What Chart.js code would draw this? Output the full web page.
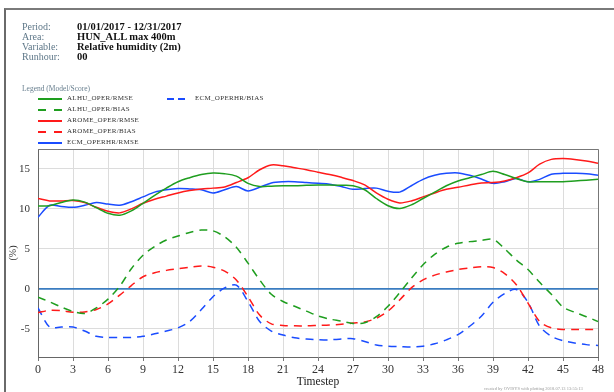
<!DOCTYPE html>
<html>
<head>
<meta charset="utf-8">
<script src="https://cdn.jsdelivr.net/npm/chart.js@4.4.0/dist/chart.umd.min.js"></script>
<style>
  html, body { margin: 0; padding: 0; background: #fff; overflow: hidden; }
  #wrap { position: relative; width: 614px; height: 392px; overflow: hidden; font-family: "Liberation Serif", "DejaVu Serif", serif; }
  #frame { position: absolute; left: 4px; top: 8px; width: 800px; height: 600px; border-top: 2px solid #7a7a7a; border-left: 2px solid #6a6a6a; }
  canvas { position: absolute; left: 0; top: 0; }
  .lab { position: absolute; left: 22px; font-size: 10px; color: #5e7788; }
  .val { position: absolute; left: 77px; font-size: 10.5px; font-weight: bold; color: #111; }
  #legtitle { position: absolute; left: 22px; top: 84px; font-size: 7.5px; color: #6a8090; }
  .li { position: absolute; font-size: 7px; color: #333; letter-spacing: 0.3px; }
  .sw { position: absolute; height: 2px; }
  #foot { position: absolute; left: 484px; top: 386px; font-size: 4.5px; color: #999; white-space: nowrap; }
</style>
</head>
<body>
<div id="wrap">
  <div id="frame"></div>
  <canvas id="c" width="614" height="392"></canvas>
  <div id="hdr"></div>
  <div id="legtitle">Legend (Model/Score)</div>
  <div id="leg"></div>
  <div id="foot">created by OVISYS with plotting 2018.07.13 13:55:13</div>
</div>
<script>
// ---- data ----
const timesteps = Array.from({length: 49}, (_, i) => i);
const xTicks = [0,3,6,9,12,15,18,21,24,27,30,33,36,39,42,45,48];
const yTicks = [-5, 0, 5, 10, 15];

const alhuRmse = [10.35,10.4,10.8,11.1,10.85,10.15,9.45,9.2,9.75,10.7,11.7,12.6,13.4,13.9,14.3,14.5,14.4,14.1,13.2,12.8,12.85,12.9,12.9,12.95,13.0,13.0,12.95,12.9,12.4,11.3,10.4,10.05,10.5,11.3,12.1,12.9,13.5,13.9,14.3,14.7,14.3,13.8,13.4,13.4,13.4,13.4,13.5,13.6,13.7];
const alhuBias = [-1.05,-1.65,-2.3,-2.85,-3.1,-2.4,-1.3,0.3,2.5,4.2,5.3,6.1,6.6,7.05,7.35,7.25,6.5,5.2,3.2,1.1,-0.7,-1.6,-2.2,-2.8,-3.4,-3.8,-4.05,-4.35,-4.25,-3.5,-2.2,-0.5,1.3,3.0,4.3,5.2,5.7,5.9,6.05,6.2,5.0,3.6,2.4,0.8,-0.7,-2.3,-2.95,-3.5,-4.1];
const aromeRmse = [11.3,11.0,11.0,11.05,10.8,10.2,9.7,9.5,10.0,10.7,11.2,11.6,12.0,12.3,12.5,12.6,12.75,13.3,13.9,14.9,15.5,15.4,15.15,14.9,14.6,14.3,13.95,13.55,13.0,12.0,11.2,10.75,11.0,11.5,12.0,12.45,12.7,13.0,13.25,13.3,13.5,13.9,14.5,15.6,16.2,16.3,16.2,16.0,15.7];
const aromeBias = [-3.0,-2.7,-2.75,-2.95,-2.9,-2.6,-1.9,-0.8,0.4,1.5,2.0,2.3,2.5,2.7,2.85,2.7,2.2,1.1,-1.0,-3.3,-4.4,-4.6,-4.65,-4.65,-4.6,-4.55,-4.45,-4.3,-4.15,-3.7,-2.8,-1.4,0.1,1.1,1.7,2.1,2.4,2.6,2.75,2.65,1.9,0.5,-1.8,-4.1,-4.9,-5.1,-5.1,-5.1,-5.1];
const ecmRmse = [8.95,10.45,10.3,10.2,10.45,10.8,10.6,10.45,10.9,11.5,12.1,12.4,12.55,12.5,12.4,12.0,12.4,12.8,12.25,12.7,13.25,13.4,13.4,13.3,13.2,13.1,12.8,12.45,12.55,12.6,12.2,12.1,12.9,13.7,14.2,14.45,14.5,14.2,13.75,13.2,13.4,13.8,13.4,13.7,14.35,14.45,14.45,14.4,14.2];
const ecmBias = [-2.4,-4.8,-4.8,-4.8,-5.3,-5.95,-6.1,-6.1,-6.1,-5.95,-5.65,-5.3,-4.9,-4.1,-2.6,-1.0,0.1,0.45,-1.6,-4.1,-5.3,-5.8,-6.15,-6.3,-6.4,-6.4,-6.3,-6.25,-6.6,-7.05,-7.2,-7.25,-7.3,-7.2,-6.9,-6.4,-5.75,-4.7,-3.45,-1.7,-0.6,-0.1,-1.7,-4.7,-5.95,-6.5,-6.8,-7.0,-7.1];

const headerLabels = ["Period:", "Area:", "Variable:", "Runhour:"];
const headerValues = ["01/01/2017 - 12/31/2017", "HUN_ALL max 400m", "Relative humidity (2m)", "00"];

const seriesNames = ["ALHU_OPER/RMSE", "ALHU_OPER/BIAS", "AROME_OPER/RMSE", "AROME_OPER/BIAS", "ECM_OPERHR/RMSE", "ECM_OPERHR/BIAS"];
const seriesData = [alhuRmse, alhuBias, aromeRmse, aromeBias, ecmRmse, ecmBias];
const seriesColors = ["#1f9e1f", "#1f9e1f", "#ff1a1a", "#ff1a1a", "#1a4cff", "#1a4cff"];
const seriesDashed = [false, true, false, true, false, true];

// ---- header ----
const hdr = document.getElementById('hdr');
const hdrTops = [21, 31, 41, 51];
headerLabels.forEach((l, i) => {
  const a = document.createElement('div'); a.className = 'lab'; a.style.top = hdrTops[i] + 'px'; a.textContent = l; hdr.appendChild(a);
  const b = document.createElement('div'); b.className = 'val'; b.style.top = hdrTops[i] + 'px'; b.textContent = headerValues[i]; hdr.appendChild(b);
});

// ---- legend ----
const leg = document.getElementById('leg');
const legPos = [[38,99],[38,110],[38,121],[38,132],[38,143],[167,99]];
seriesNames.forEach((n, i) => {
  const [lx, ly] = legPos[i];
  const w = i === 5 ? 18 : 24;
  if (seriesDashed[i]) {
    const dl = i === 5 ? 7 : 8;
    [0, w - dl].forEach(off => {
      const s = document.createElement('div'); s.className = 'sw';
      s.style.left = (lx + off) + 'px'; s.style.top = (ly - 1) + 'px'; s.style.width = dl + 'px';
      s.style.background = seriesColors[i]; leg.appendChild(s);
    });
  } else {
    const s = document.createElement('div'); s.className = 'sw';
    s.style.left = lx + 'px'; s.style.top = (ly - 1) + 'px'; s.style.width = w + 'px';
    s.style.background = seriesColors[i]; leg.appendChild(s);
  }
  const t = document.createElement('div'); t.className = 'li';
  t.style.left = (lx + w + (i === 5 ? 10 : 5)) + 'px'; t.style.top = (ly - 5) + 'px'; t.textContent = n;
  leg.appendChild(t);
});

// ---- chart ----
const datasets = seriesNames.map((n, i) => ({
  label: n,
  data: timesteps.map((t, k) => ({x: t, y: seriesData[i][k]})),
  borderColor: seriesColors[i],
  backgroundColor: seriesColors[i],
  borderWidth: 1.5,
  borderDash: seriesDashed[i] ? [8, 6] : [],
  pointRadius: 0,
  tension: 0.3,
  fill: false
}));

const boxPlugin = {
  id: 'box',
  afterDraw(chart) {
    const {ctx, chartArea: a} = chart;
    ctx.save();
    ctx.strokeStyle = '#777';
    ctx.lineWidth = 1;
    ctx.beginPath();
    ctx.moveTo(a.left, a.top + 0.5); ctx.lineTo(a.right + 0.5, a.top + 0.5); ctx.lineTo(a.right + 0.5, a.bottom);
    ctx.stroke();
    ctx.restore();
  }
};

new Chart(document.getElementById('c'), {
  type: 'line',
  data: { datasets },
  plugins: [boxPlugin],
  options: {
    responsive: false,
    animation: false,
    layout: { padding: { left: 0, top: 149, right: 16, bottom: 0 } },
    plugins: { legend: { display: false }, tooltip: { enabled: false } },
    scales: {
      x: {
        type: 'linear', min: 0, max: 48,
        afterFit: s => { s.height = 35; },
        afterBuildTicks: s => { s.ticks = xTicks.map(v => ({value: v})); },
        grid: { color: '#dcdcdc', lineWidth: 1, drawTicks: true, tickLength: 4, tickColor: '#777' },
        border: { color: '#666', width: 1 },
        ticks: { color: '#333', font: { family: 'Liberation Serif', size: 12 }, padding: 2, maxRotation: 0, autoSkip: false },
        title: { display: true, text: 'Timestep', color: '#222', font: { family: 'Liberation Serif', size: 11.5 }, padding: { top: 0, bottom: 3 } }
      },
      y: {
        type: 'linear', min: -8.55, max: 17.5,
        afterFit: s => { s.width = 38; },
        afterBuildTicks: s => { s.ticks = yTicks.map(v => ({value: v})); },
        grid: {
          color: c => (c.tick && c.tick.value === 0) ? '#3a7cc0' : '#dcdcdc',
          lineWidth: c => (c.tick && c.tick.value === 0) ? 1.8 : 1,
          drawTicks: false
        },
        border: { color: '#666', width: 1 },
        ticks: { color: '#333', font: { family: 'Liberation Serif', size: 11 }, padding: 8 },
        title: { display: true, text: '(%)', color: '#333', font: { family: 'Liberation Serif', size: 10 }, padding: { top: 7, bottom: 0 } }
      }
    }
  }
});
</script>
</body>
</html>
